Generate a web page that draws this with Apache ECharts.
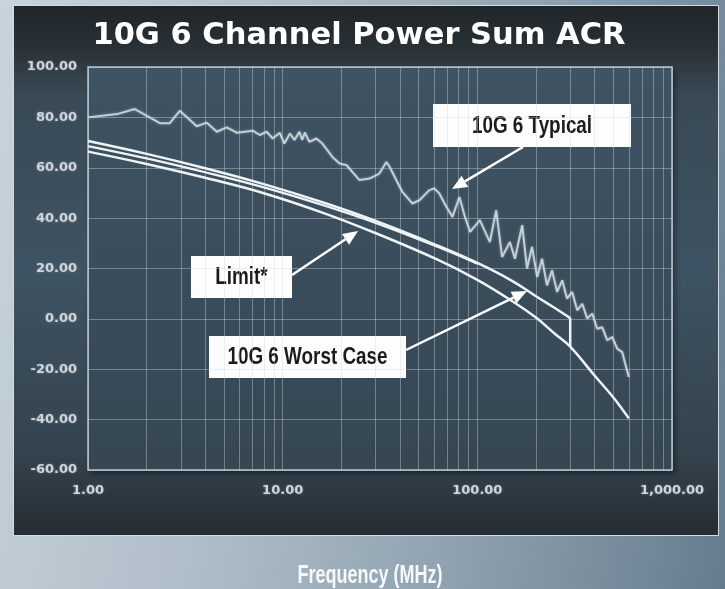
<!DOCTYPE html>
<html>
<head>
<meta charset="utf-8">
<script src="https://cdn.jsdelivr.net/npm/echarts@6/dist/echarts.min.js"></script>
<style>
  html, body { margin: 0; padding: 0; }
  body {
    width: 725px; height: 589px; overflow: hidden;
    background: linear-gradient(100deg, #c8d3db 0%, #afbdc8 35%, #91a3b1 65%, #667c8e 100%);
  }
  #chart { width: 725px; height: 589px; }
</style>
</head>
<body>
<div id="chart"></div>
<script>
// frequency in MHz, ACR in dB
const typicalFreq = [1, 1.41, 1.74, 2.34, 2.63, 2.96, 3.62, 4.08, 4.59, 5.16,
  5.81, 7.02, 7.62, 8.28, 8.89, 9.66, 10.2, 10.9, 11.5, 12.2,
  12.6, 13.0, 13.7, 14.9, 16.0, 18.0, 19.6, 21.3, 24.8, 27.9,
  31.4, 34.1, 35.4, 41.2, 46.4, 50.4, 56.7, 60.1, 63.8, 69.3,
  74.5, 80.9, 85.8, 91.8, 103, 116, 125, 134, 147, 156,
  170, 180, 191, 203, 215, 228, 242, 257, 273, 289,
  307, 326, 346, 367, 389, 413, 438, 465, 493, 523,
  555, 575, 600];
const typicalAcr = [80.0, 81.3, 83.3, 77.7, 77.7, 82.6, 76.5, 77.9, 74.3, 76.0,
  73.9, 74.7, 73.0, 74.3, 71.6, 73.9, 69.6, 73.6, 71.0, 74.3,
  71.0, 74.0, 70.3, 71.6, 69.6, 64.3, 61.7, 61.0, 55.1, 55.7,
  57.7, 62.3, 60.4, 50.4, 45.8, 47.1, 51.1, 51.8, 49.8, 44.5,
  40.5, 48.4, 41.2, 34.5, 39.2, 30.5, 43.1, 24.6, 30.5, 23.9,
  37.2, 20.0, 28.6, 16.6, 23.9, 13.3, 19.3, 10.7, 15.3, 8.0,
  10.7, 3.4, 6.0, 0.1, 2.1, -3.9, -3.3, -8.5, -7.2, -11.8,
  -13.2, -17.8, -23.1];

const worstFreq = [1, 2, 4, 8, 16, 31.25, 62.5, 100, 150, 200, 250, 300];
const worstAcr = [70.6, 65.5, 59.8, 53.5, 46.3, 38.4, 29.1, 22.2, 15.2, 9.0, 4.3, 0.3];
// second trace of the worst case, runs just under it at low frequency
const worstInnerFreq = [1, 2, 4, 8, 16, 31.25, 62.5, 100];
const worstInnerAcr = [68.6, 63.7, 58.2, 52.2, 45.2, 37.6, 28.6, 21.9];

const limitFreq = [1, 2, 4, 8, 16, 31.25, 62.5, 100, 150, 200, 250, 300, 400, 500, 600];
const limitAcr = [66.4, 61.5, 56.0, 49.9, 42.2, 33.5, 23.5, 15.5, 7.2, 0.5, -5.9, -11.0, -22.5, -31.2, -39.5];

const minorFreq = [2, 3, 4, 5, 6, 7, 8, 9, 20, 30, 40, 50, 60, 70, 80, 90,
  200, 300, 400, 500, 600, 700, 800, 900];

const zip = (xs, ys) => xs.map((x, i) => [x, ys[i]]);
const dropFreq = worstFreq[worstFreq.length - 1];
const dropLine = [[dropFreq, worstAcr[worstAcr.length - 1]], [dropFreq, limitAcr[limitFreq.indexOf(dropFreq)]]];

const gridColor = 'rgba(205,218,228,0.4)';
const curveColor = '#eef3f6';
const boxFont = 'bold 23px "Liberation Sans", Arial, sans-serif';
const tickFont = 'DejaVu Sans, Verdana, sans-serif';

// no condensed face installed, so squeeze Liberation Sans bold horizontally
function labelBox(x, y, w, h, text) {
  return {
    type: 'group', x: x, y: y, z: 20,
    children: [
      { type: 'rect', shape: { x: 0, y: 0, width: w, height: h }, style: { fill: '#fdfdfd' } },
      { type: 'text', x: w / 2, y: h / 2 + 1, scaleX: 0.82,
        style: { text: text, fill: '#1b1b1b', font: boxFont, align: 'center', verticalAlign: 'middle' } }
    ]
  };
}

function arrow(x1, y1, x2, y2) {
  const a = Math.atan2(y2 - y1, x2 - x1);
  const len = 15, half = 6.5;
  const bx = x2 - len * Math.cos(a), by = y2 - len * Math.sin(a);
  const px = -Math.sin(a) * half, py = Math.cos(a) * half;
  return [
    { type: 'line', z: 20, shape: { x1: x1, y1: y1, x2: bx, y2: by }, style: { stroke: '#ffffff', lineWidth: 2.5 } },
    { type: 'polygon', z: 20, shape: { points: [[x2, y2], [bx + px, by + py], [bx - px, by - py]] }, style: { fill: '#ffffff' } }
  ];
}

const chart = echarts.init(document.getElementById('chart'));

chart.setOption({
  animation: false,
  backgroundColor: 'transparent',
  graphic: [
    { type: 'rect', z: -10, shape: { x: 13.5, y: 5.5, width: 705, height: 530 },
      style: {
        stroke: '#d3dbe1', lineWidth: 1,
        fill: new echarts.graphic.LinearGradient(0, 0, 0, 1, [
          { offset: 0, color: '#1f2428' },
          { offset: 0.08, color: '#293136' },
          { offset: 0.17, color: '#394a56' },
          { offset: 0.5, color: '#3e5363' },
          { offset: 0.84, color: '#34434e' },
          { offset: 1, color: '#262d33' }
        ])
      } },
    { type: 'rect', z: -9, shape: { x: 88, y: 67, width: 584, height: 403 },
      style: {
        fill: new echarts.graphic.LinearGradient(0, 0, 0, 1, [
          { offset: 0, color: '#3e5363' },
          { offset: 1, color: '#364753' }
        ]),
        shadowBlur: 6, shadowOffsetX: 3, shadowOffsetY: 3, shadowColor: 'rgba(0,0,0,0.45)'
      } },
    { type: 'text', x: 359, y: 36, z: 20,
      style: { text: '10G 6 Channel Power Sum ACR', fill: '#ffffff', font: 'bold 30.5px "DejaVu Sans", Verdana, sans-serif',
        align: 'center', verticalAlign: 'middle' } },
    { type: 'text', x: 370, y: 576, z: 20, scaleX: 0.72,
      style: { text: 'Frequency (MHz)', fill: '#f6f8fa', font: 'bold 25px "Liberation Sans", Arial, sans-serif',
        align: 'center', verticalAlign: 'middle' } },
    labelBox(433, 104, 198, 43, '10G 6 Typical'),
    labelBox(191, 256, 101, 42, 'Limit*'),
    labelBox(209, 336, 197, 42, '10G 6 Worst Case'),
    ...arrow(523, 147, 452, 189),
    ...arrow(292, 275, 358, 231),
    ...arrow(406, 350, 527, 291)
  ],
  grid: {
    left: 88, right: 53, top: 67, bottom: 119,
    show: true, borderColor: '#b8c5ce', borderWidth: 1.5, backgroundColor: 'transparent'
  },
  xAxis: {
    type: 'log', logBase: 10, min: 1, max: 1000,
    axisLine: { show: false },
    axisTick: { show: false },
    axisLabel: {
      margin: 14, color: '#cdd5db', fontSize: 13, fontWeight: 'bold', fontFamily: tickFont,
      textShadowColor: 'rgba(255,255,255,0.35)', textShadowBlur: 2,
      formatter: v => v.toLocaleString('en-US', { minimumFractionDigits: 2, maximumFractionDigits: 2 })
    },
    splitLine: { show: true, lineStyle: { color: gridColor, width: 1 } }
  },
  yAxis: {
    type: 'value', min: -60, max: 100, interval: 20,
    axisLine: { show: false },
    axisTick: { show: false },
    axisLabel: {
      margin: 11, color: '#cdd5db', fontSize: 13, fontWeight: 'bold', fontFamily: tickFont,
      textShadowColor: 'rgba(255,255,255,0.35)', textShadowBlur: 2,
      formatter: v => v.toFixed(2)
    },
    splitLine: { show: true, lineStyle: { color: gridColor, width: 1 } }
  },
  series: [
    {
      name: 'minor grid', type: 'line', data: [], z: 1, silent: true,
      markLine: {
        silent: true, symbol: ['none', 'none'], label: { show: false },
        lineStyle: { color: gridColor, width: 1, type: 'solid' },
        emphasis: { disabled: true },
        data: minorFreq.map(f => ({ xAxis: f }))
      }
    },
    {
      name: 'Limit*', type: 'line', data: zip(limitFreq, limitAcr), smooth: 0.4, symbol: 'none', z: 5,
      lineStyle: { color: curveColor, width: 2.5 }
    },
    {
      name: '10G 6 Worst Case', type: 'line', data: zip(worstFreq, worstAcr), smooth: 0.4, symbol: 'none', z: 5,
      lineStyle: { color: curveColor, width: 2.5 }
    },
    {
      name: '10G 6 Worst Case inner', type: 'line', data: zip(worstInnerFreq, worstInnerAcr), smooth: 0.4, symbol: 'none', z: 5,
      lineStyle: { color: curveColor, width: 2.2 }
    },
    {
      name: 'drop', type: 'line', data: dropLine, symbol: 'none', z: 5,
      lineStyle: { color: curveColor, width: 2.5 }
    },
    {
      name: '10G 6 Typical', type: 'line', data: zip(typicalFreq, typicalAcr), symbol: 'none', z: 4,
      lineStyle: { color: '#c3d0d8', width: 2, shadowBlur: 3, shadowColor: 'rgba(255,255,255,0.35)' }
    }
  ]
});
</script>
</body>
</html>
